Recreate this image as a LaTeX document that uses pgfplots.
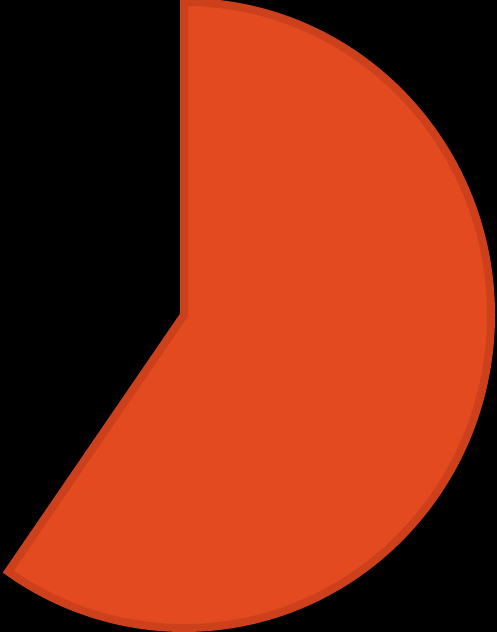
\documentclass[border=0pt]{standalone}
\usepackage{pgfplots}
\pgfplotsset{compat=1.18}
\usepackage{pgfplotstable}
\definecolor{slicefill}{RGB}{228,74,32}
\definecolor{sliceedge}{RGB}{204,64,28}

% one share of the pie, in percent
\pgfplotstableread{
label value
A 59.7
}\piedata

\begin{document}
\begin{tikzpicture}
\pgfplotstablegetelem{0}{value}\of\piedata
\pgfmathsetmacro{\endangle}{90-3.6*\pgfplotsretval}
\begin{axis}[
  scale only axis,
  width=497bp, height=632bp,
  xmin=-184, xmax=313, ymin=-317, ymax=315,
  hide axis,
]
\fill[black] (rel axis cs:0,0) rectangle (rel axis cs:1,1);
\filldraw[fill=slicefill, draw=sliceedge, line width=8bp]
  (axis cs:0,0) -- (axis cs:0,313)
  arc[start angle=90, end angle=\endangle, x radius=307bp, y radius=313bp] -- cycle;
\end{axis}
\end{tikzpicture}
\end{document}
